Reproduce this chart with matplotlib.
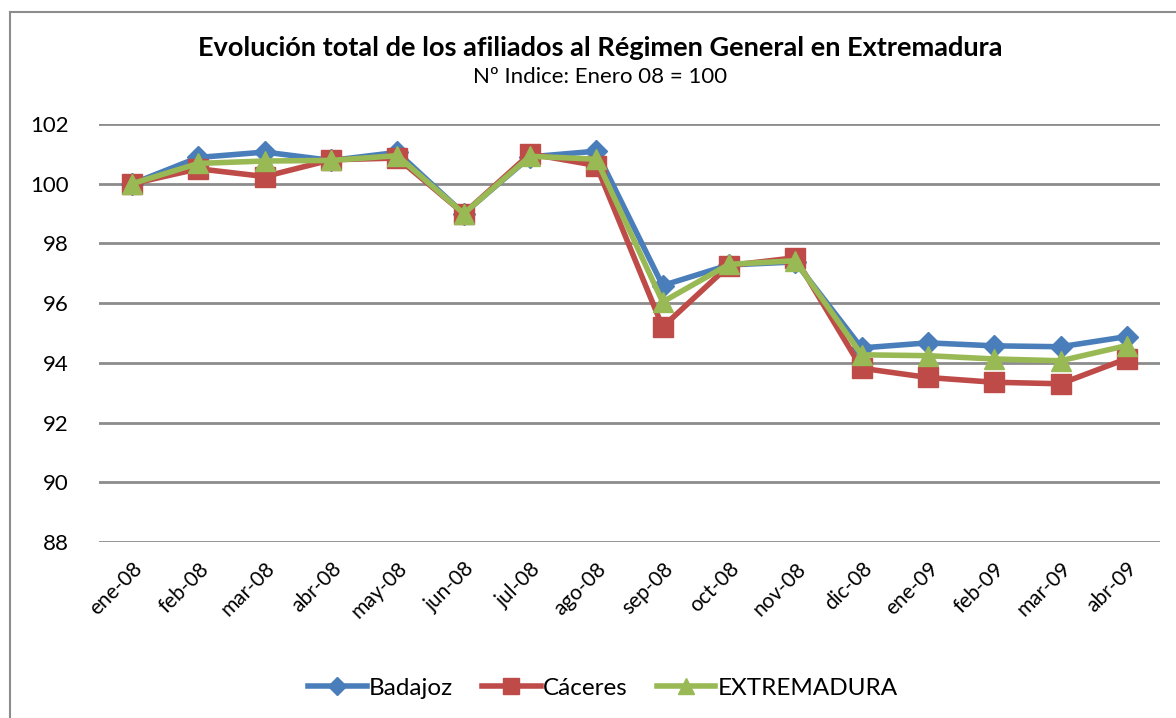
import matplotlib
matplotlib.use("Agg")
import matplotlib.pyplot as plt
from matplotlib.lines import Line2D

plt.rcParams["font.family"] = ["Lato", "DejaVu Sans"]

# datos (índice, enero 08 = 100)
meses = ["ene-08", "feb-08", "mar-08", "abr-08", "may-08", "jun-08", "jul-08",
         "ago-08", "sep-08", "oct-08", "nov-08", "dic-08", "ene-09", "feb-09",
         "mar-09", "abr-09"]

badajoz = [100.0, 100.88, 101.06, 100.78, 101.05, 99.0, 100.9, 101.09,
           96.59, 97.28, 97.38, 94.5, 94.67, 94.57, 94.54, 94.88]
caceres = [100.0, 100.5, 100.24, 100.8, 100.86, 99.0, 101.0, 100.61,
           95.2, 97.26, 97.52, 93.82, 93.51, 93.35, 93.3, 94.14]
extremadura = [100.0, 100.68, 100.76, 100.78, 100.94, 99.0, 100.92, 100.82,
               96.04, 97.3, 97.42, 94.27, 94.24, 94.13, 94.07, 94.58]

yticks = [88, 90, 92, 94, 96, 98, 100, 102]

c_bad = "#4a7ebb"
c_cac = "#be4b48"
c_ext = "#98b954"

fig = plt.figure(figsize=(11.76, 7.18), dpi=100)
ax = fig.add_axes([99 / 1176, 1 - 542 / 718, (1160 - 99) / 1176, (542 - 124) / 718])

x = list(range(len(meses)))
ax.plot(x, badajoz, color=c_bad, lw=4, marker="D", ms=11, label="Badajoz", zorder=3)
ax.plot(x, caceres, color=c_cac, lw=4, marker="s", ms=14, label="Cáceres", zorder=4)
ax.plot(x, extremadura, color=c_ext, lw=4, marker="^", ms=14, label="EXTREMADURA", zorder=5)

ax.set_xlim(-0.5, len(meses) - 0.5)
ax.set_ylim(88, 102)
ax.set_yticks(yticks)
ax.set_yticklabels([str(v) for v in yticks], fontsize=16)
ax.set_xticks(x)
ax.set_xticklabels(meses, rotation=45, ha="right", rotation_mode="anchor", fontsize=15)
ax.tick_params(axis="both", length=0)
ax.tick_params(axis="y", pad=22)
ax.tick_params(axis="x", pad=12)

ax.grid(axis="y", color="#8c8c8c", lw=2)
ax.set_axisbelow(True)
for s in ax.spines.values():
    s.set_visible(False)

fig.text(600 / 1176, 1 - 48 / 718, "Evolución total de los afiliados al Régimen General en Extremadura",
         ha="center", va="center", fontsize=19.5, fontweight="bold")
fig.text(600 / 1176, 1 - 77 / 718, "Nº Indice: Enero 08 = 100",
         ha="center", va="center", fontsize=16)

fig.legend(loc="center", bbox_to_anchor=(603 / 1176, 1 - 688 / 718), ncol=3, frameon=False,
           fontsize=17.5, handlelength=2.4, columnspacing=1.2, handletextpad=0.1,
           markerscale=0.85)

# marco del gráfico
fig.add_artist(Line2D([10 / 1176, 1], [1 - 12 / 718, 1 - 12 / 718],
                      transform=fig.transFigure, color="#8c8c8c", lw=1.5))
fig.add_artist(Line2D([10 / 1176, 10 / 1176], [0, 1 - 12 / 718],
                      transform=fig.transFigure, color="#8c8c8c", lw=1.5))

fig.savefig("out.png", dpi=100)
